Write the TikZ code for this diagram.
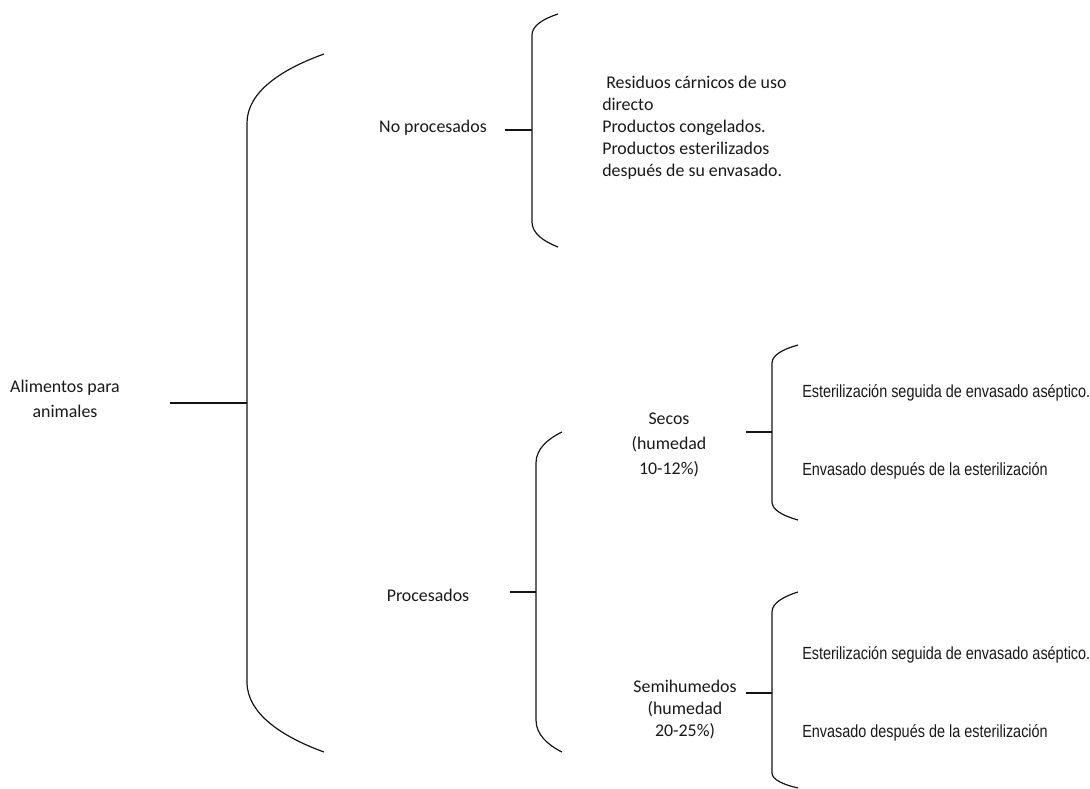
\documentclass[tikz,border=0pt]{standalone}
\usepackage{fontspec}
\setmainfont{Carlito}
\newfontfamily\narrowfont[FakeStretch=0.82]{Liberation Sans}
\usepackage{tikz}
\usetikzlibrary{calc,positioning}
\definecolor{braceInk}{RGB}{20,20,20}
\definecolor{labelInk}{RGB}{25,25,25}

\begin{document}
\begin{tikzpicture}[x=0.75pt,y=-0.75pt,
  brace/.style={braceInk, line width=0.9pt},
  stub/.style={braceInk, line width=1.1pt},
  label/.style={text=labelInk, font=\fontsize{13.4}{18.5}\selectfont, align=center, inner sep=0pt},
  listing/.style={text=labelInk, font=\fontsize{13.4}{16.5}\selectfont, align=left, anchor=west, inner sep=0pt},
  item/.style={text=labelInk, font=\narrowfont\fontsize{13.2}{16}\selectfont, anchor=west, inner sep=0pt}]
\useasboundingbox (0,0) rectangle (1090,789);

% brackets: spine x / arc end x / top end / top bend / bottom bend / bottom end
\foreach \bx/\ex/\ta/\tb/\ba/\bb in {247/324/54/123/682/752, 532/558/14/35/222/247,
  536/562/432/463/720/752, 772/798/345/363/502/520, 772/798/592/612/773/788}{
  \draw[brace] (\ex,\ta) .. controls ({\bx+0.45*(\ex-\bx)},{\ta+0.22*(\tb-\ta)}) and (\bx,{\ta+0.55*(\tb-\ta)}) .. (\bx,\tb)
    -- (\bx,\ba) .. controls (\bx,{\bb-0.55*(\bb-\ba)}) and ({\bx+0.45*(\ex-\bx)},{\bb-0.22*(\bb-\ba)}) .. (\ex,\bb);
}

% points on the spines
\coordinate (spineRoot) at (247,403);
\coordinate (spineRaw) at (532,130);
\coordinate (spineProc) at (536,592);
\coordinate (spineDry) at (772,432);
\coordinate (spineSemi) at (772,693);

% labels
\node[label] (root) at (65,399) {Alimentos para\\animales};
\node[label] (raw) at (433,128) {No procesados};
\node[label] (proc) at (428,595) {Procesados};
\node[label] (dry) at (669,445) {Secos\\(humedad\\10-12\%)};
\node[label, font=\fontsize{13.4}{16.5}\selectfont] (semi) at (685,710) {Semihumedos\\(humedad\\20-25\%)};

% stubs
\coordinate (rootOut) at (170,403);
\coordinate (rawOut) at (505,130);
\coordinate (procOut) at (510,592);
\coordinate (dryOut) at (746,432);
\coordinate (semiOut) at (746,693);
\draw[stub] (rootOut) -- (spineRoot);
\draw[stub] (rawOut) -- (spineRaw);
\draw[stub] (procOut) -- (spineProc);
\draw[stub] (dryOut) -- (spineDry);
\draw[stub] (semiOut) -- (spineSemi);

% leaves
\node[listing] (rawList) at (602,128) {\ Residuos cárnicos de uso\\directo\\Productos congelados.\\Productos esterilizados\\después de su envasado.};
\node[item] (dryA) at (802,393) {Esterilización seguida de envasado aséptico.};
\node[item] (dryB) at (802,471) {Envasado después de la esterilización};
\node[item] (semiA) at (802,655) {Esterilización seguida de envasado aséptico.};
\node[item] (semiB) at (802,733) {Envasado después de la esterilización};
\end{tikzpicture}
\end{document}
